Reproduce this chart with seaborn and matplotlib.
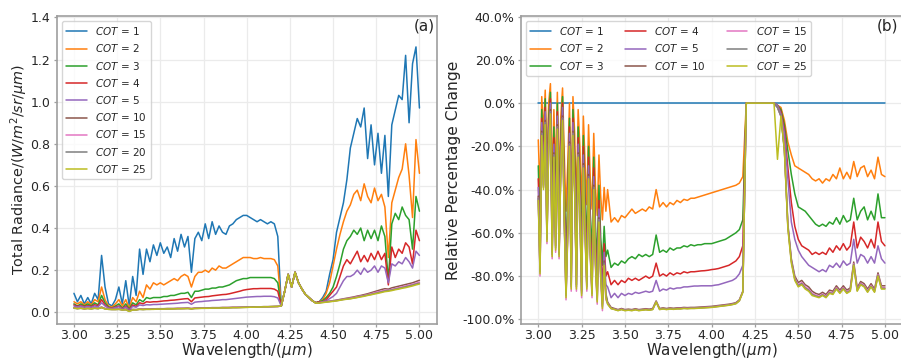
import numpy as np
import pandas as pd
import matplotlib
matplotlib.use("Agg")
import matplotlib.pyplot as plt
import seaborn as sns
from matplotlib.ticker import FuncFormatter, MultipleLocator, FormatStrFormatter

# ---------------- data ----------------
cot_values = ["1", "2", "3", "4", "5", "10", "15", "20", "25"]

# panel (a): wavelength grid (um)
wl_a = np.round(np.arange(3.00, 5.001, 0.02), 2)

# CO2 band 4.20-4.38 um where all curves overlap
co2_band = [0.03, 0.10, 0.18, 0.12, 0.19, 0.14, 0.11, 0.085, 0.07, 0.055]

rad_cot1 = ([0.09, 0.05, 0.08, 0.04, 0.07, 0.04, 0.09, 0.06, 0.27, 0.12, 0.04, 0.03, 0.06, 0.12, 0.04, 0.15, 0.03, 0.17, 0.08, 0.30,
             0.18, 0.30, 0.24, 0.32, 0.27, 0.33, 0.28, 0.31, 0.26, 0.35, 0.29, 0.37, 0.31, 0.36, 0.19, 0.35, 0.38, 0.34, 0.42, 0.35,
             0.43, 0.37, 0.41, 0.38, 0.37, 0.41, 0.42, 0.44, 0.45, 0.46,
             0.46, 0.45, 0.44, 0.43, 0.44, 0.43, 0.42, 0.43, 0.42, 0.36]
            + co2_band +
            [0.045, 0.05, 0.07, 0.10, 0.18, 0.25, 0.38, 0.45, 0.52, 0.63,
             0.78, 0.85, 0.92, 0.88, 0.97, 0.73, 0.89, 0.70, 0.85, 0.66, 0.84, 0.55, 0.89, 0.96, 1.03, 1.01, 1.22, 0.90, 1.18, 1.26, 0.97])
rad_cot2 = ([0.05, 0.04, 0.05, 0.035, 0.05, 0.035, 0.06, 0.05, 0.12, 0.06, 0.03, 0.025, 0.04, 0.06, 0.03, 0.06, 0.02, 0.07, 0.05, 0.10,
             0.07, 0.13, 0.11, 0.14, 0.13, 0.14, 0.13, 0.14, 0.15, 0.16, 0.15, 0.17, 0.18, 0.17, 0.12, 0.17, 0.19, 0.19, 0.20, 0.19,
             0.21, 0.20, 0.22, 0.21, 0.21, 0.22, 0.23, 0.24, 0.25, 0.26,
             0.26, 0.26, 0.255, 0.255, 0.26, 0.255, 0.255, 0.255, 0.25, 0.22]
            + co2_band +
            [0.045, 0.05, 0.06, 0.09, 0.14, 0.22, 0.30, 0.37, 0.43, 0.48,
             0.51, 0.56, 0.58, 0.53, 0.61, 0.55, 0.52, 0.59, 0.53, 0.56, 0.50, 0.26, 0.52, 0.58, 0.64, 0.68, 0.80, 0.65, 0.45, 0.82, 0.66])
rad_cot3 = ([0.04, 0.03, 0.04, 0.03, 0.04, 0.03, 0.045, 0.035, 0.08, 0.045, 0.025, 0.02, 0.03, 0.04, 0.02, 0.04, 0.015, 0.045, 0.035, 0.06,
             0.05, 0.07, 0.065, 0.07, 0.07, 0.07, 0.075, 0.075, 0.08, 0.08, 0.085, 0.09, 0.09, 0.095, 0.07, 0.10, 0.10, 0.105, 0.11, 0.11,
             0.115, 0.115, 0.12, 0.12, 0.125, 0.13, 0.14, 0.15, 0.155, 0.16,
             0.16, 0.165, 0.165, 0.165, 0.165, 0.165, 0.165, 0.165, 0.16, 0.14]
            + co2_band +
            [0.045, 0.05, 0.055, 0.07, 0.09, 0.12, 0.17, 0.23, 0.30, 0.34,
             0.36, 0.39, 0.37, 0.40, 0.34, 0.39, 0.35, 0.39, 0.34, 0.41, 0.36, 0.15, 0.42, 0.47, 0.44, 0.50, 0.46, 0.44, 0.30, 0.55, 0.48])
rad_cot4 = ([0.035, 0.028, 0.033, 0.027, 0.032, 0.027, 0.036, 0.03, 0.06, 0.035, 0.022, 0.02, 0.025, 0.03, 0.018, 0.03, 0.012, 0.035, 0.028, 0.045,
             0.04, 0.05, 0.048, 0.05, 0.05, 0.052, 0.054, 0.055, 0.057, 0.058, 0.06, 0.062, 0.064, 0.065, 0.05, 0.068, 0.07, 0.072, 0.074, 0.075,
             0.078, 0.08, 0.082, 0.084, 0.085, 0.088, 0.092, 0.096, 0.10, 0.105,
             0.108, 0.11, 0.112, 0.112, 0.113, 0.113, 0.113, 0.113, 0.11, 0.10]
            + co2_band +
            [0.045, 0.05, 0.05, 0.06, 0.08, 0.10, 0.12, 0.17, 0.22, 0.25,
             0.23, 0.26, 0.29, 0.24, 0.27, 0.24, 0.28, 0.25, 0.29, 0.25, 0.28, 0.13, 0.31, 0.26, 0.30, 0.28, 0.33, 0.31, 0.23, 0.39, 0.34])
rad_cot5 = ([0.03, 0.025, 0.03, 0.024, 0.028, 0.024, 0.03, 0.026, 0.045, 0.03, 0.02, 0.018, 0.022, 0.026, 0.016, 0.025, 0.01, 0.028, 0.024, 0.035,
             0.032, 0.036, 0.035, 0.037, 0.037, 0.038, 0.039, 0.04, 0.041, 0.042, 0.043, 0.045, 0.046, 0.047, 0.038, 0.048, 0.05, 0.051, 0.053, 0.054,
             0.056, 0.057, 0.058, 0.06, 0.06, 0.062, 0.064, 0.066, 0.068, 0.07,
             0.072, 0.073, 0.074, 0.075, 0.075, 0.076, 0.076, 0.076, 0.074, 0.068]
            + co2_band +
            [0.045, 0.045, 0.05, 0.055, 0.065, 0.075, 0.09, 0.12, 0.15, 0.17,
             0.17, 0.18, 0.20, 0.18, 0.21, 0.19, 0.20, 0.22, 0.19, 0.22, 0.21, 0.14, 0.23, 0.22, 0.24, 0.23, 0.26, 0.24, 0.21, 0.29, 0.27])
rad_cot10 = ([0.022, 0.019, 0.021, 0.018, 0.02, 0.018, 0.021, 0.019, 0.025, 0.018, 0.016, 0.015, 0.015, 0.016, 0.013, 0.015, 0.008, 0.014, 0.013, 0.016,
              0.015, 0.016, 0.016, 0.016, 0.017, 0.017, 0.017, 0.018, 0.018, 0.018, 0.019, 0.019, 0.019, 0.02, 0.018, 0.02, 0.02, 0.021, 0.021, 0.021,
              0.022, 0.022, 0.022, 0.023, 0.023, 0.023, 0.024, 0.024, 0.024, 0.025,
              0.025, 0.025, 0.026, 0.026, 0.026, 0.027, 0.027, 0.027, 0.028, 0.028]
             + co2_band +
             [0.045, 0.047, 0.049, 0.051, 0.053, 0.055, 0.058, 0.061, 0.064, 0.067,
              0.07, 0.073, 0.077, 0.08, 0.084, 0.088, 0.093, 0.098, 0.103, 0.108, 0.112, 0.11, 0.116, 0.12, 0.124, 0.128, 0.132, 0.136, 0.14, 0.146, 0.152])
rad_cot15 = ([0.021, 0.018, 0.02, 0.017, 0.019, 0.017, 0.02, 0.018, 0.023, 0.017, 0.015, 0.014, 0.014, 0.015, 0.012, 0.013, 0.006, 0.012, 0.012, 0.015,
              0.014, 0.015, 0.015, 0.015, 0.016, 0.016, 0.016, 0.017, 0.017, 0.017, 0.018, 0.018, 0.018, 0.019, 0.017, 0.019, 0.019, 0.02, 0.02, 0.02,
              0.021, 0.021, 0.021, 0.022, 0.022, 0.022, 0.023, 0.023, 0.023, 0.024,
              0.024, 0.024, 0.025, 0.025, 0.025, 0.026, 0.026, 0.026, 0.027, 0.027]
             + co2_band +
             [0.044, 0.046, 0.048, 0.05, 0.052, 0.054, 0.056, 0.059, 0.062, 0.065,
              0.067, 0.07, 0.074, 0.077, 0.08, 0.084, 0.088, 0.093, 0.097, 0.101, 0.105, 0.104, 0.109, 0.113, 0.117, 0.121, 0.125, 0.129, 0.133, 0.138, 0.143])
rad_cot20 = ([0.02, 0.017, 0.019, 0.016, 0.018, 0.016, 0.019, 0.017, 0.022, 0.016, 0.014, 0.013, 0.013, 0.014, 0.011, 0.012, 0.005, 0.011, 0.011, 0.014,
              0.013, 0.014, 0.014, 0.015, 0.015, 0.015, 0.016, 0.016, 0.016, 0.017, 0.017, 0.017, 0.018, 0.018, 0.016, 0.018, 0.019, 0.019, 0.019, 0.02,
              0.02, 0.02, 0.021, 0.021, 0.021, 0.022, 0.022, 0.022, 0.023, 0.023,
              0.024, 0.024, 0.025, 0.025, 0.025, 0.026, 0.026, 0.027, 0.027, 0.028]
             + co2_band +
             [0.043, 0.045, 0.047, 0.049, 0.051, 0.053, 0.055, 0.058, 0.061, 0.063,
              0.065, 0.068, 0.071, 0.075, 0.078, 0.082, 0.085, 0.089, 0.093, 0.097, 0.101, 0.103, 0.106, 0.11, 0.113, 0.117, 0.121, 0.125, 0.129, 0.134, 0.138])
rad_cot25 = ([0.02, 0.017, 0.019, 0.016, 0.018, 0.016, 0.019, 0.017, 0.022, 0.016, 0.014, 0.013, 0.013, 0.014, 0.011, 0.012, 0.004, 0.011, 0.011, 0.014,
              0.013, 0.014, 0.014, 0.014, 0.015, 0.015, 0.015, 0.016, 0.016, 0.016, 0.017, 0.017, 0.017, 0.018, 0.016, 0.018, 0.018, 0.019, 0.019, 0.019,
              0.02, 0.02, 0.02, 0.021, 0.021, 0.021, 0.022, 0.022, 0.022, 0.023,
              0.023, 0.024, 0.024, 0.025, 0.025, 0.026, 0.026, 0.027, 0.027, 0.028]
             + co2_band +
             [0.043, 0.044, 0.046, 0.048, 0.05, 0.052, 0.054, 0.057, 0.06, 0.062,
              0.064, 0.067, 0.07, 0.073, 0.076, 0.08, 0.083, 0.087, 0.09, 0.094, 0.098, 0.1, 0.103, 0.107, 0.11, 0.114, 0.117, 0.121, 0.125, 0.13, 0.134])

# panel (b): wavelength grid (finer in the noisy 3.0-3.4 um part)
wl_b = np.round(np.concatenate([np.arange(3.00, 3.395, 0.01), np.arange(3.40, 5.001, 0.02)]), 2)

pct_cot1 = [0.0] * 121
pct_cot2 = ([-17, -42, 3, -14, 6, -31, 0, 9, -36, -3, -34, 5, -36, -6, 7, -24, -50, -28, 0, -47,
             3, -14, -47, -3, -20, -49, -6, -28, -47, -10, -35, -49, -14, -39, -52, -24, -43, -54, -39, -50]
            + [-40, -55, -53, -55, -52, -53, -51, -49, -51, -50,
               -49, -50, -48, -49, -40, -48, -46, -48, -46, -47,
               -45, -46, -44.5, -45, -44, -44, -43.5, -43, -42.5, -42,
               -41.5, -41, -40.5, -40, -39.5, -39, -38.5, -38, -37, -34,
               0, 0, 0, 0, 0, 0, 0, 0, 0, -1,
               -2, -8, -18, -24, -29, -30, -31, -32, -33, -35,
               -36, -35, -37, -35, -36, -33, -35, -30, -35, -32,
               -35, -27, -34, -30, -29, -34, -31, -35, -25, -33, -34])
pct_cot3 = ([-29, -61, -3, -25, 2, -46, -7, 5, -53, -11, -50, 0, -53, -15, 3, -38, -71, -42, -7, -67,
             -3, -25, -67, -11, -33, -70, -15, -42, -67, -20, -52, -70, -25, -57, -73, -38, -62, -75, -57, -71]
            + [-68, -76, -74, -75, -73, -74, -72, -71, -72, -70,
               -71, -70, -71, -70, -61, -69, -68, -69, -67, -68,
               -67, -67, -66, -66.5, -65.5, -66, -65.5, -65.5, -65, -65,
               -65, -64.5, -64, -63.5, -63, -62, -61, -60, -58.5, -54,
               0, 0, 0, 0, 0, 0, 0, 0, 0, -1,
               -3, -10, -22, -33, -42, -48, -49, -50, -52, -54,
               -56, -57, -56, -57, -55, -56, -53, -56, -52, -55,
               -54, -44, -54, -50, -48, -54, -50, -54, -42, -53, -53])
pct_cot4 = ([-35, -69, -7, -30, -2, -54, -11, 2, -61, -16, -58, -4, -61, -20, 0, -45, -80, -50, -11, -76,
             -7, -30, -76, -16, -40, -79, -20, -50, -76, -25, -60, -79, -30, -65, -82, -45, -70, -84, -65, -80]
            + [-78, -84, -82, -84, -82, -83, -81, -82, -81, -82,
               -81, -80, -81, -80, -74, -80, -79, -80, -78.5, -79.5,
               -78.5, -79, -78, -78.5, -78, -78, -77.8, -77.6, -77.5, -77.3,
               -77, -76.8, -76.5, -76, -75.5, -75, -74, -73, -71, -66,
               0, 0, 0, 0, 0, 0, 0, 0, 0, -1,
               -4, -12, -30, -46, -57, -63, -66, -67, -68, -70,
               -69, -70, -69, -70, -67, -69, -66, -68, -65, -68,
               -66, -55, -67, -62, -64, -67, -63, -67, -55, -64, -66])
pct_cot5 = ([-39, -73, -9, -34, -4, -58, -14, 0, -65, -19, -62, -6, -65, -24, -2, -49, -84, -54, -14, -80,
             -9, -34, -80, -19, -44, -83, -24, -54, -80, -29, -64, -83, -34, -69, -86, -49, -74, -88, -69, -84]
            + [-85, -90, -88, -90, -88, -89, -88, -88.5, -87.5, -88,
               -87.5, -87, -87.5, -87, -82, -87, -86, -86.5, -85.5, -86,
               -85.5, -85.5, -85, -85, -84.8, -84.6, -84.6, -84.5, -84.5, -84.5,
               -84.5, -84.2, -84, -83.5, -83, -82.5, -82, -81, -79, -75,
               0, 0, 0, 0, 0, 0, 0, 0, 0, -1,
               -5, -14, -35, -55, -63, -68, -71, -73, -75, -76,
               -77, -78, -77, -78, -75, -76, -74, -76, -73, -75,
               -74, -63, -74, -70, -71, -74, -71, -74, -66, -72, -74])
pct_cot10 = ([-43, -77, -13, -38, -8, -62, -18, -3, -69, -23, -66, -10, -69, -28, -6, -53, -88, -58, -18, -84,
              -13, -38, -84, -23, -48, -87, -28, -58, -84, -33, -68, -87, -38, -73, -90, -53, -78, -93, -73, -88]
             + [-92, -94.5, -95, -95.5, -95, -95.5, -95.3, -95.5, -95.1, -95.5,
                -95.3, -95.1, -95.3, -95, -91.5, -95, -94.7, -95, -94.7, -94.9,
                -94.7, -94.7, -94.5, -94.6, -94.5, -94.5, -94.4, -94.3, -94.2, -94.1,
                -94, -93.8, -93.6, -93.4, -93.2, -93, -92.7, -92.3, -91, -87,
                0, 0, 0, 0, 0, 0, 0, 0, 0, -2,
                -6, -21, -56, -72, -80, -83, -82, -84, -85, -87,
                -88, -88.5, -87.5, -88.5, -86.5, -87, -84.5, -86.5, -84.5, -86.5,
                -85.5, -73.5, -85.5, -82.5, -83.5, -86, -83.5, -86, -78.5, -84.5, -84.5])
pct_cot15 = ([-44, -80, -14, -39, -9, -65, -19, -4, -72, -24, -69, -11, -72, -29, -7, -54, -91, -61, -19, -87,
              -14, -39, -87, -24, -49, -90, -29, -61, -87, -34, -71, -90, -39, -76, -93, -54, -81, -96, -76, -91]
             + [-92.5, -95, -95.3, -95.8, -95.3, -95.8, -95.6, -95.8, -95.4, -95.8,
                -95.6, -95.4, -95.6, -95.3, -91.8, -95.3, -95, -95.3, -95, -95.2,
                -95, -95, -94.8, -94.9, -94.8, -94.8, -94.7, -94.6, -94.5, -94.4,
                -94.3, -94.1, -93.9, -93.7, -93.5, -93.3, -93, -92.6, -91.3, -87.3,
                0, 0, 0, 0, 0, 0, 0, 0, 0, -2,
                -6, -21, -57, -73, -81, -84, -83, -85, -86, -88,
                -88.8, -89.3, -88.3, -89.3, -87.3, -87.8, -85.3, -87.3, -85.3, -87.3,
                -86.3, -74.3, -86.3, -83.3, -84.3, -86.8, -84.3, -86.8, -79.3, -85.3, -85.3])
pct_cot20 = ([-44, -78, -14, -39, -9, -63, -19, -4, -70, -24, -67, -11, -70, -29, -7, -54, -89, -59, -19, -85,
              -14, -39, -85, -24, -49, -88, -29, -59, -85, -34, -69, -88, -39, -74, -91, -54, -79, -94, -74, -89]
             + [-92.8, -95, -95.4, -95.9, -95.4, -95.9, -95.7, -95.9, -95.5, -95.9,
                -95.7, -95.5, -95.7, -95.4, -91.9, -95.4, -95.1, -95.4, -95.1, -95.3,
                -95.1, -95.1, -94.9, -95, -94.9, -94.9, -94.8, -94.7, -94.6, -94.5,
                -94.4, -94.2, -94, -93.8, -93.6, -93.4, -93.1, -92.7, -91.4, -87.4,
                0, 0, 0, 0, 0, 0, 0, 0, 0, -2,
                -6, -22, -57, -73, -81.5, -84.5, -83.5, -85.5, -86.5, -88.5,
                -89.2, -89.7, -88.7, -89.7, -87.7, -88.2, -85.7, -87.7, -85.7, -87.7,
                -86.7, -74.7, -86.7, -83.7, -84.7, -87.2, -84.7, -87.2, -79.7, -85.7, -85.7])
pct_cot25 = ([-45, -79, -15, -40, -10, -64, -20, -5, -71, -25, -68, -12, -71, -30, -8, -55, -90, -60, -20, -86,
              -15, -40, -86, -25, -50, -89, -30, -60, -86, -35, -70, -89, -40, -75, -92, -55, -80, -95, -75, -90]
             + [-93, -95, -95.5, -96, -95.5, -96, -95.8, -96, -95.6, -96,
                -95.8, -95.6, -95.8, -95.5, -92, -95.5, -95.2, -95.5, -95.2, -95.4,
                -95.2, -95.2, -95, -95.1, -95, -95, -94.9, -94.8, -94.7, -94.6,
                -94.5, -94.3, -94.1, -93.9, -93.7, -93.5, -93.2, -92.8, -91.5, -87.5,
                0, 0, 0, 0, 0, 0, 0, 0, 0, -26,
                -6, -22, -58, -74, -82, -85, -84, -86, -87, -89,
                -89.5, -90, -89, -90, -88, -88.5, -86, -88, -86, -88,
                -87, -75, -87, -84, -85, -87.5, -85, -87.5, -80, -86, -86])

rad_series = [rad_cot1, rad_cot2, rad_cot3, rad_cot4, rad_cot5, rad_cot10, rad_cot15, rad_cot20, rad_cot25]
pct_series = [pct_cot1, pct_cot2, pct_cot3, pct_cot4, pct_cot5, pct_cot10, pct_cot15, pct_cot20, pct_cot25]

labels = [f"$COT$ = {c}" for c in cot_values]
df_a = pd.concat([pd.DataFrame({"wl": wl_a, "val": v, "COT": lab}) for lab, v in zip(labels, rad_series)],
                 ignore_index=True)
df_b = pd.concat([pd.DataFrame({"wl": wl_b, "val": v, "COT": lab}) for lab, v in zip(labels, pct_series)],
                 ignore_index=True)

# ---------------- style ----------------
sns.set_theme(style="whitegrid", rc={
    "axes.edgecolor": "0.62",
    "axes.linewidth": 1.2,
    "grid.color": "0.92",
    "grid.linewidth": 0.9,
    "text.color": "0.15",
    "xtick.color": "0.62",
    "ytick.color": "0.62",
    "xtick.labelcolor": "0.15",
    "ytick.labelcolor": "0.15",
})
plt.rcParams["font.family"] = ["DejaVu Sans"]
plt.rcParams["mathtext.fontset"] = "dejavusans"

palette = sns.color_palette("tab10", 9)

fig = plt.figure(figsize=(9.01, 3.60), dpi=100)
ax1 = fig.add_axes([0.0629, 0.0992, 0.4218, 0.857])
ax2 = fig.add_axes([0.5782, 0.0992, 0.4232, 0.857])

sns.lineplot(data=df_a, x="wl", y="val", hue="COT", hue_order=labels, palette=palette,
             estimator=None, linewidth=1.1, ax=ax1)
sns.lineplot(data=df_b, x="wl", y="val", hue="COT", hue_order=labels, palette=palette,
             estimator=None, linewidth=1.1, ax=ax2)

for ax in (ax1, ax2):
    ax.set_xlim(2.9, 5.1)
    ax.xaxis.set_major_locator(MultipleLocator(0.25))
    ax.xaxis.set_major_formatter(FormatStrFormatter("%.2f"))
    ax.tick_params(axis="both", which="major", labelsize=9, length=2.5, width=0.9,
                   pad=2, bottom=True, left=True)
    ax.tick_params(axis="x", pad=0.6)
    ax.set_xlabel("Wavelength/($\\mu m$)", fontsize=10.8, labelpad=-0.3)

ax1.set_ylim(-0.057, 1.408)
ax1.yaxis.set_major_locator(MultipleLocator(0.2))
ax1.yaxis.set_major_formatter(FormatStrFormatter("%.1f"))
ax1.set_ylabel("Total Radiance/($W/m^2/sr/\\mu m$)", fontsize=10.4, labelpad=0)

ax2.set_ylim(-102.3, 40.4)
ax2.yaxis.set_major_locator(MultipleLocator(20))
ax2.yaxis.set_major_formatter(FuncFormatter(lambda v, p: f"{v:.1f}%"))
ax2.set_ylabel("Relative Percentage Change", fontsize=11.2, labelpad=1)

sns.move_legend(ax1, "upper left", ncol=1, title=None, fontsize=7.5, frameon=True)
sns.move_legend(ax2, "upper left", ncol=3, title=None, fontsize=7.5, frameon=True)

ax1.text(0.995, 0.992, "(a)", transform=ax1.transAxes, ha="right", va="top", fontsize=11)
ax2.text(0.99, 0.992, "(b)", transform=ax2.transAxes, ha="right", va="top", fontsize=11)

fig.savefig("out.png", dpi=100)
